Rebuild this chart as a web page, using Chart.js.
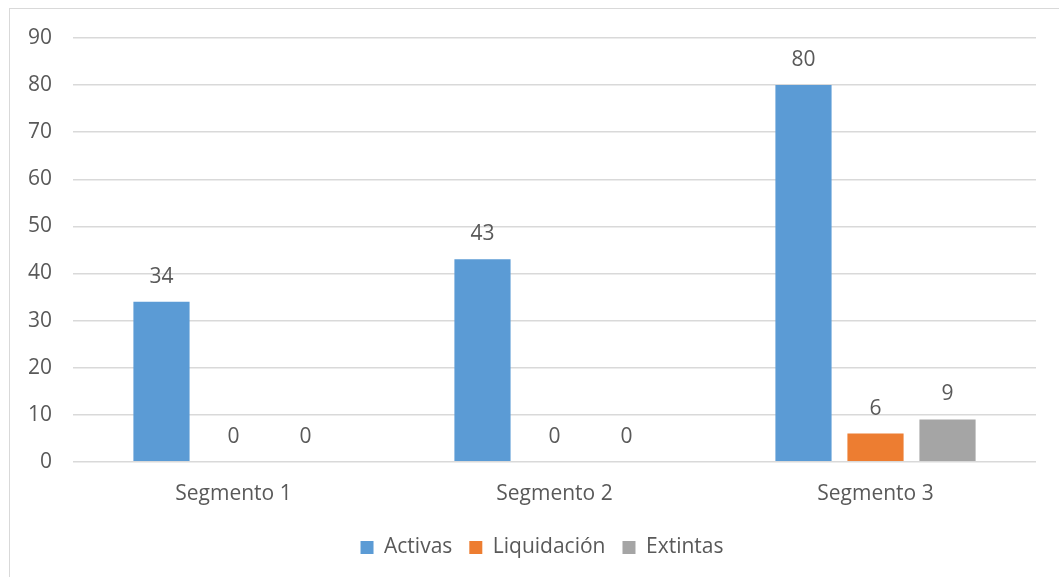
<!DOCTYPE html>
<html>
<head>
<meta charset="utf-8">
<script src="https://cdn.jsdelivr.net/npm/chart.js@4.4.1/dist/chart.umd.min.js"></script>
<style>
  html, body { margin: 0; padding: 0; background: #fff; }
  #wrap { position: relative; width: 1059px; height: 577px; overflow: hidden; }
  #frame { position: absolute; left: 9px; top: 8px; width: 1100px; height: 620px;
           border-left: 1px solid #d9d9d9; border-top: 1px solid #d9d9d9; }
  canvas { position: absolute; left: 0; top: 0; }
</style>
</head>
<body>
<div id="wrap">
  <div id="frame"></div>
  <canvas id="chart" width="1059" height="577"></canvas>
</div>
<script>
const categories = ['Segmento 1', 'Segmento 2', 'Segmento 3'];
const activas = [34, 43, 80];
const liquidacion = [0, 0, 6];
const extintas = [0, 0, 9];
const yTicks = [0, 10, 20, 30, 40, 50, 60, 70, 80, 90];

const FONT = "'Open Sans', 'Noto Sans', sans-serif";
const TEXT = '#595959';
const SIZE = 21;

// Draws each bar's value centred above its top edge
const valueLabels = {
  id: 'valueLabels',
  afterDatasetsDraw(chart) {
    const ctx = chart.ctx;
    ctx.save();
    ctx.font = SIZE + 'px ' + FONT;
    ctx.fillStyle = TEXT;
    ctx.textAlign = 'center';
    ctx.textBaseline = 'middle';
    chart.data.datasets.forEach((ds, i) => {
      const meta = chart.getDatasetMeta(i);
      meta.data.forEach((bar, j) => {
        ctx.fillText(String(ds.data[j]), bar.x, bar.y - 25);
      });
    });
    ctx.restore();
  }
};

// Centres the legend row across the framed panel rather than the plot
const legendShift = {
  id: 'legendShift',
  beforeDraw(chart) {
    const lg = chart.legend;
    if (lg) { lg.left = 24; lg.right = 1060; }
  }
};

new Chart(document.getElementById('chart'), {
  type: 'bar',
  data: {
    labels: categories,
    datasets: [
      { label: 'Activas', data: activas, backgroundColor: '#5B9BD5' },
      { label: 'Liquidación', data: liquidacion, backgroundColor: '#ED7D31' },
      { label: 'Extintas', data: extintas, backgroundColor: '#A5A5A5' }
    ]
  },
  options: {
    responsive: false,
    animation: false,
    datasets: { bar: { categoryPercentage: 0.673, barPercentage: 0.78 } },
    layout: { padding: { left: 0, right: 23, top: 38, bottom: 9 } },
    scales: {
      x: {
        afterFit(scale) { scale.height += 1; },
        grid: { display: false },
        border: { display: false },
        ticks: { color: TEXT, font: { family: FONT, size: SIZE }, padding: 12 }
      },
      y: {
        min: 0, max: 90,
        afterBuildTicks(scale) { scale.ticks = yTicks.map(v => ({ value: v })); },
        afterFit(scale) { scale.width = 73; },
        grid: { color: '#d9d9d9', lineWidth: 1.5, drawTicks: false },
        border: { display: false },
        ticks: { color: TEXT, font: { family: FONT, size: SIZE }, padding: 21 }
      }
    },
    plugins: {
      tooltip: { enabled: false },
      legend: {
        position: 'bottom',
        labels: {
          color: TEXT,
          font: { family: FONT, size: SIZE },
          boxWidth: 13, boxHeight: 13,
          padding: 17
        }
      }
    }
  },
  plugins: [valueLabels, legendShift]
});
</script>
</body>
</html>
